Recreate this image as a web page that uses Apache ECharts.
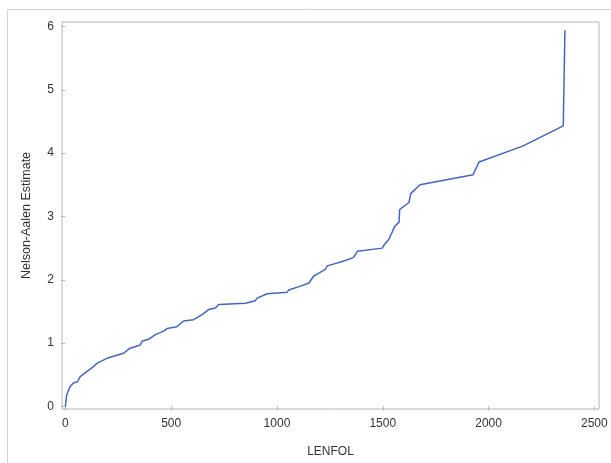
<!DOCTYPE html>
<html>
<head>
<meta charset="utf-8">
<script src="https://cdn.jsdelivr.net/npm/echarts@6/dist/echarts.min.js"></script>
<style>html,body{margin:0;padding:0;background:#fff;}#c{width:611px;height:463px;}</style>
</head>
<body>
<div id="c"></div>
<script>
const lenfol = [0, 6, 22, 38, 57, 70, 101, 133, 149, 196, 275, 306, 354, 362, 393, 425, 464, 480, 527, 559, 606, 646, 677, 709, 725, 851, 898, 906, 954, 1048, 1056, 1111, 1151, 1174, 1190, 1230, 1237, 1309, 1361, 1380, 1498, 1506, 1529, 1556, 1577, 1580, 1624, 1632, 1676, 1927, 1955, 2161, 2353, 2361];
const estimate = [0, 0.18, 0.31, 0.37, 0.39, 0.47, 0.55, 0.63, 0.68, 0.76, 0.84, 0.92, 0.97, 1.03, 1.06, 1.135, 1.19, 1.23, 1.26, 1.35, 1.37, 1.45, 1.53, 1.555, 1.61, 1.63, 1.67, 1.71, 1.78, 1.805, 1.84, 1.90, 1.95, 2.06, 2.09, 2.17, 2.22, 2.29, 2.35, 2.45, 2.50, 2.55, 2.64, 2.84, 2.91, 3.11, 3.22, 3.36, 3.50, 3.66, 3.86, 4.11, 4.43, 5.94];
const xTicks = [0, 500, 1000, 1500, 2000, 2500];
const yTicks = [0, 1, 2, 3, 4, 5, 6];

const chart = echarts.init(document.getElementById('c'), null, {renderer: 'canvas'});
const font = 'Liberation Sans, Arial, sans-serif';
chart.setOption({
  animation: false,
  backgroundColor: '#fff',
  graphic: [{
    type: 'rect', silent: true, z: -1,
    shape: {x: 7.5, y: 9.5, width: 620, height: 470},
    style: {fill: 'none', stroke: '#d4d4d4', lineWidth: 1}
  }],
  grid: {left: 62, top: 22, right: 12, bottom: 52, show: true, borderColor: '#b4b4b4', borderWidth: 1, backgroundColor: 'transparent'},
  xAxis: {
    type: 'value', min: -16, max: 2522,
    name: 'LENFOL', nameLocation: 'middle', nameGap: 37, nameMoveOverlap: false,
    nameTextStyle: {fontFamily: font, fontSize: 12, color: '#333'},
    axisLine: {show: false},
    splitLine: {show: false},
    axisTick: {show: true, length: 4, lineStyle: {color: '#b4b4b4'}, customValues: xTicks},
    axisLabel: {fontFamily: font, fontSize: 12, color: '#333', margin: 9, customValues: xTicks, formatter: v => String(v)}
  },
  yAxis: {
    type: 'value', min: -0.04, max: 6.07,
    name: 'Nelson-Aalen Estimate', nameLocation: 'middle', nameGap: 29, nameRotate: 90, nameMoveOverlap: false,
    nameTextStyle: {fontFamily: font, fontSize: 12.5, color: '#333'},
    axisLine: {show: false},
    splitLine: {show: false},
    axisTick: {show: true, length: 4, lineStyle: {color: '#b4b4b4'}, customValues: yTicks},
    axisLabel: {fontFamily: font, fontSize: 12, color: '#333', margin: 8, customValues: yTicks, formatter: v => String(v)}
  },
  series: [{
    type: 'line',
    data: lenfol.map((x, i) => [x, estimate[i]]),
    showSymbol: false,
    lineStyle: {color: '#4466c2', width: 1.5},
    itemStyle: {color: '#4466c2'}
  }]
});
</script>
</body>
</html>
